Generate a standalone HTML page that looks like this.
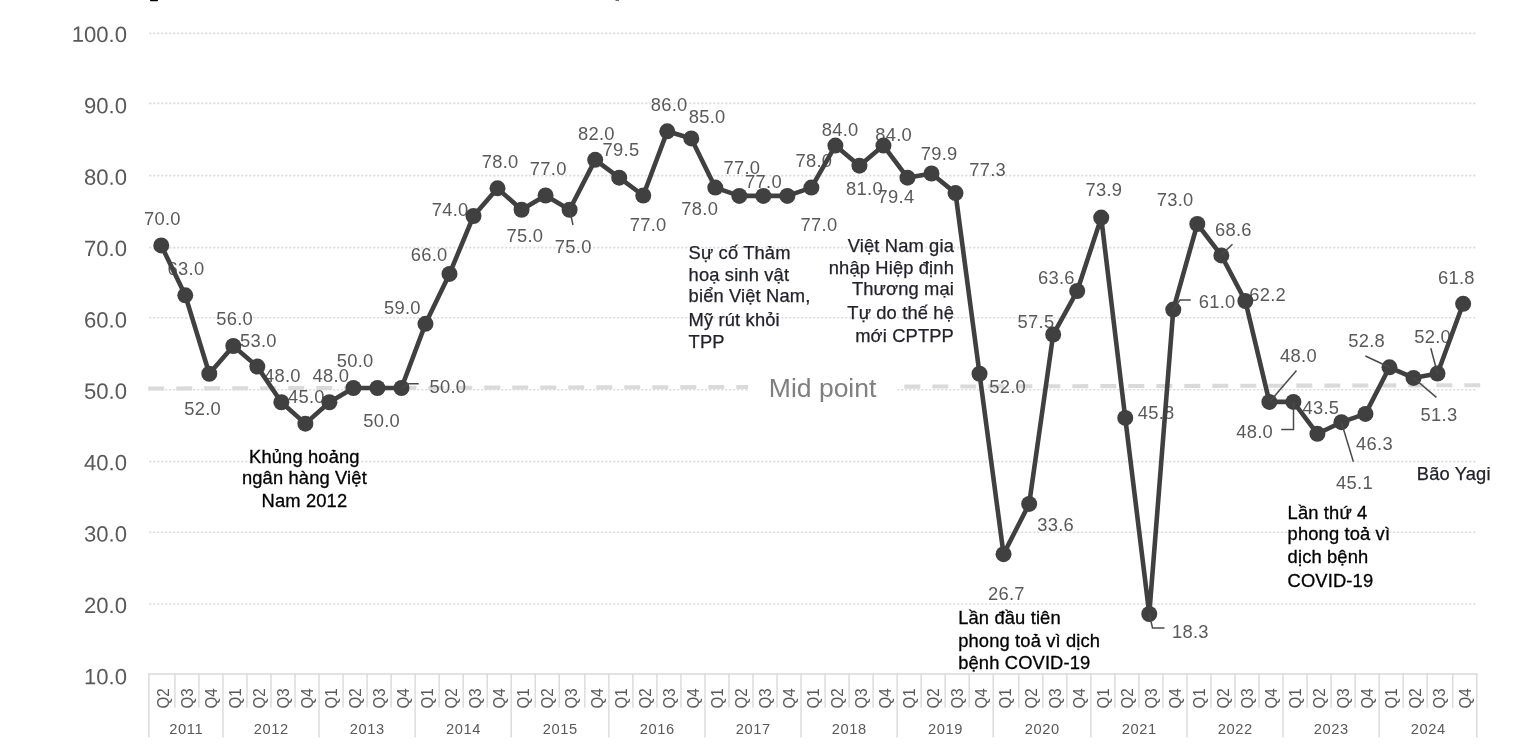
<!DOCTYPE html>
<html lang="vi"><head><meta charset="utf-8"><title>Chart</title>
<style>html,body{margin:0;padding:0;background:#fff}body{width:1520px;height:750px;overflow:hidden;position:relative;font-family:"Liberation Sans",sans-serif}svg{position:absolute;left:0;top:0;display:block}text{font-family:"Liberation Sans",sans-serif}.yl{font-size:22.1px;fill:#595959;text-anchor:end}.dl{font-size:18.33px;fill:#595959;letter-spacing:0.3px}.xl{font-size:14.67px;fill:#595959}.xq{font-size:16.8px;fill:#595959}.an{font-size:18.33px;fill:#000;stroke:#000;stroke-width:0.3px;letter-spacing:0.14px}.an2{font-size:18.33px;fill:#22222c;stroke:#22222c;stroke-width:0.25px;letter-spacing:0.14px}</style></head><body>
<svg width="1520" height="750" viewBox="0 0 1520 750">
<rect x="150" y="-1" width="8" height="2.2" rx="1" fill="#000"/>
<rect x="615.5" y="0" width="3.5" height="0.8" fill="#444"/>
<g stroke="#d9d9d9" stroke-width="1.6" stroke-dasharray="2 2" fill="none">
<line x1="149.3" y1="33.4" x2="1477" y2="33.4"/>
<line x1="149.3" y1="103.4" x2="1477" y2="103.4"/>
<line x1="149.3" y1="175.6" x2="1477" y2="175.6"/>
<line x1="149.3" y1="247.6" x2="1477" y2="247.6"/>
<line x1="149.3" y1="317.8" x2="1477" y2="317.8"/>
<line x1="149.3" y1="389.8" x2="1477" y2="389.8"/>
<line x1="149.3" y1="461.6" x2="1477" y2="461.6"/>
<line x1="149.3" y1="532.3" x2="1477" y2="532.3"/>
<line x1="149.3" y1="604.0" x2="1477" y2="604.0"/>
</g>
<line x1="148.2" y1="388.5" x2="1480.2" y2="385.2" stroke="#dadada" stroke-width="4.1" stroke-dasharray="16 12.003"/>
<rect x="748" y="370" width="149.5" height="36" fill="#fff"/>
<text x="822.6" y="396.6" font-size="26.5" fill="#7f7f7f" text-anchor="middle">Mid point</text>
<g stroke="#d9d9d9" stroke-width="1.4" fill="none">
<line x1="148.20000000000002" y1="674.0" x2="1477.7" y2="674.0"/>
<line x1="148.90" y1="674.0" x2="148.90" y2="737.4"/>
<line x1="174.92" y1="674.0" x2="174.92" y2="707.8"/>
<line x1="198.94" y1="674.0" x2="198.94" y2="707.8"/>
<line x1="222.96" y1="674.0" x2="222.96" y2="737.4"/>
<line x1="246.98" y1="674.0" x2="246.98" y2="707.8"/>
<line x1="271.00" y1="674.0" x2="271.00" y2="707.8"/>
<line x1="295.02" y1="674.0" x2="295.02" y2="707.8"/>
<line x1="319.04" y1="674.0" x2="319.04" y2="737.4"/>
<line x1="343.06" y1="674.0" x2="343.06" y2="707.8"/>
<line x1="367.08" y1="674.0" x2="367.08" y2="707.8"/>
<line x1="391.10" y1="674.0" x2="391.10" y2="707.8"/>
<line x1="415.12" y1="674.0" x2="415.12" y2="737.4"/>
<line x1="439.14" y1="674.0" x2="439.14" y2="707.8"/>
<line x1="463.16" y1="674.0" x2="463.16" y2="707.8"/>
<line x1="487.18" y1="674.0" x2="487.18" y2="707.8"/>
<line x1="511.20" y1="674.0" x2="511.20" y2="737.4"/>
<line x1="535.22" y1="674.0" x2="535.22" y2="707.8"/>
<line x1="559.24" y1="674.0" x2="559.24" y2="707.8"/>
<line x1="584.86" y1="674.0" x2="584.86" y2="707.8"/>
<line x1="608.88" y1="674.0" x2="608.88" y2="737.4"/>
<line x1="632.90" y1="674.0" x2="632.90" y2="707.8"/>
<line x1="656.92" y1="674.0" x2="656.92" y2="707.8"/>
<line x1="680.94" y1="674.0" x2="680.94" y2="707.8"/>
<line x1="704.96" y1="674.0" x2="704.96" y2="737.4"/>
<line x1="728.98" y1="674.0" x2="728.98" y2="707.8"/>
<line x1="753.00" y1="674.0" x2="753.00" y2="707.8"/>
<line x1="777.02" y1="674.0" x2="777.02" y2="707.8"/>
<line x1="801.04" y1="674.0" x2="801.04" y2="737.4"/>
<line x1="825.06" y1="674.0" x2="825.06" y2="707.8"/>
<line x1="849.08" y1="674.0" x2="849.08" y2="707.8"/>
<line x1="873.10" y1="674.0" x2="873.10" y2="707.8"/>
<line x1="897.12" y1="674.0" x2="897.12" y2="737.4"/>
<line x1="921.14" y1="674.0" x2="921.14" y2="707.8"/>
<line x1="945.16" y1="674.0" x2="945.16" y2="707.8"/>
<line x1="969.18" y1="674.0" x2="969.18" y2="707.8"/>
<line x1="993.20" y1="674.0" x2="993.20" y2="737.4"/>
<line x1="1018.82" y1="674.0" x2="1018.82" y2="707.8"/>
<line x1="1042.84" y1="674.0" x2="1042.84" y2="707.8"/>
<line x1="1066.86" y1="674.0" x2="1066.86" y2="707.8"/>
<line x1="1090.88" y1="674.0" x2="1090.88" y2="737.4"/>
<line x1="1114.90" y1="674.0" x2="1114.90" y2="707.8"/>
<line x1="1138.92" y1="674.0" x2="1138.92" y2="707.8"/>
<line x1="1162.94" y1="674.0" x2="1162.94" y2="707.8"/>
<line x1="1186.96" y1="674.0" x2="1186.96" y2="737.4"/>
<line x1="1210.98" y1="674.0" x2="1210.98" y2="707.8"/>
<line x1="1235.00" y1="674.0" x2="1235.00" y2="707.8"/>
<line x1="1259.02" y1="674.0" x2="1259.02" y2="707.8"/>
<line x1="1283.04" y1="674.0" x2="1283.04" y2="737.4"/>
<line x1="1307.06" y1="674.0" x2="1307.06" y2="707.8"/>
<line x1="1331.08" y1="674.0" x2="1331.08" y2="707.8"/>
<line x1="1355.10" y1="674.0" x2="1355.10" y2="707.8"/>
<line x1="1379.12" y1="674.0" x2="1379.12" y2="737.4"/>
<line x1="1403.14" y1="674.0" x2="1403.14" y2="707.8"/>
<line x1="1427.16" y1="674.0" x2="1427.16" y2="707.8"/>
<line x1="1452.78" y1="674.0" x2="1452.78" y2="707.8"/>
<line x1="1476.80" y1="674.0" x2="1476.80" y2="737.4"/>
</g>
<text class="yl" transform="translate(127,41.9) rotate(0.03)">100.0</text>
<text class="yl" transform="translate(127,113.3) rotate(0.03)">90.0</text>
<text class="yl" transform="translate(127,184.7) rotate(0.03)">80.0</text>
<text class="yl" transform="translate(127,256.0) rotate(0.03)">70.0</text>
<text class="yl" transform="translate(127,327.4) rotate(0.03)">60.0</text>
<text class="yl" transform="translate(127,398.8) rotate(0.03)">50.0</text>
<text class="yl" transform="translate(127,470.2) rotate(0.03)">40.0</text>
<text class="yl" transform="translate(127,541.6) rotate(0.03)">30.0</text>
<text class="yl" transform="translate(127,612.9) rotate(0.03)">20.0</text>
<text class="yl" transform="translate(127,684.3) rotate(0.03)">10.0</text>
<text class="xq" transform="translate(168.75,708.6) rotate(-90) scale(0.9,1)">Q2</text>
<text class="xq" transform="translate(192.77,708.6) rotate(-90) scale(0.9,1)">Q3</text>
<text class="xq" transform="translate(216.79,708.6) rotate(-90) scale(0.9,1)">Q4</text>
<text class="xq" transform="translate(240.81,708.6) rotate(-90) scale(0.9,1)">Q1</text>
<text class="xq" transform="translate(264.83,708.6) rotate(-90) scale(0.9,1)">Q2</text>
<text class="xq" transform="translate(288.85,708.6) rotate(-90) scale(0.9,1)">Q3</text>
<text class="xq" transform="translate(312.87,708.6) rotate(-90) scale(0.9,1)">Q4</text>
<text class="xq" transform="translate(336.89,708.6) rotate(-90) scale(0.9,1)">Q1</text>
<text class="xq" transform="translate(360.91,708.6) rotate(-90) scale(0.9,1)">Q2</text>
<text class="xq" transform="translate(384.93,708.6) rotate(-90) scale(0.9,1)">Q3</text>
<text class="xq" transform="translate(408.95,708.6) rotate(-90) scale(0.9,1)">Q4</text>
<text class="xq" transform="translate(432.97,708.6) rotate(-90) scale(0.9,1)">Q1</text>
<text class="xq" transform="translate(456.99,708.6) rotate(-90) scale(0.9,1)">Q2</text>
<text class="xq" transform="translate(481.01,708.6) rotate(-90) scale(0.9,1)">Q3</text>
<text class="xq" transform="translate(505.03,708.6) rotate(-90) scale(0.9,1)">Q4</text>
<text class="xq" transform="translate(529.05,708.6) rotate(-90) scale(0.9,1)">Q1</text>
<text class="xq" transform="translate(553.07,708.6) rotate(-90) scale(0.9,1)">Q2</text>
<text class="xq" transform="translate(577.09,708.6) rotate(-90) scale(0.9,1)">Q3</text>
<text class="xq" transform="translate(602.71,708.6) rotate(-90) scale(0.9,1)">Q4</text>
<text class="xq" transform="translate(626.73,708.6) rotate(-90) scale(0.9,1)">Q1</text>
<text class="xq" transform="translate(650.75,708.6) rotate(-90) scale(0.9,1)">Q2</text>
<text class="xq" transform="translate(674.77,708.6) rotate(-90) scale(0.9,1)">Q3</text>
<text class="xq" transform="translate(698.79,708.6) rotate(-90) scale(0.9,1)">Q4</text>
<text class="xq" transform="translate(722.81,708.6) rotate(-90) scale(0.9,1)">Q1</text>
<text class="xq" transform="translate(746.83,708.6) rotate(-90) scale(0.9,1)">Q2</text>
<text class="xq" transform="translate(770.85,708.6) rotate(-90) scale(0.9,1)">Q3</text>
<text class="xq" transform="translate(794.87,708.6) rotate(-90) scale(0.9,1)">Q4</text>
<text class="xq" transform="translate(818.89,708.6) rotate(-90) scale(0.9,1)">Q1</text>
<text class="xq" transform="translate(842.91,708.6) rotate(-90) scale(0.9,1)">Q2</text>
<text class="xq" transform="translate(866.93,708.6) rotate(-90) scale(0.9,1)">Q3</text>
<text class="xq" transform="translate(890.95,708.6) rotate(-90) scale(0.9,1)">Q4</text>
<text class="xq" transform="translate(914.97,708.6) rotate(-90) scale(0.9,1)">Q1</text>
<text class="xq" transform="translate(938.99,708.6) rotate(-90) scale(0.9,1)">Q2</text>
<text class="xq" transform="translate(963.01,708.6) rotate(-90) scale(0.9,1)">Q3</text>
<text class="xq" transform="translate(987.03,708.6) rotate(-90) scale(0.9,1)">Q4</text>
<text class="xq" transform="translate(1011.05,708.6) rotate(-90) scale(0.9,1)">Q1</text>
<text class="xq" transform="translate(1036.67,708.6) rotate(-90) scale(0.9,1)">Q2</text>
<text class="xq" transform="translate(1060.69,708.6) rotate(-90) scale(0.9,1)">Q3</text>
<text class="xq" transform="translate(1084.71,708.6) rotate(-90) scale(0.9,1)">Q4</text>
<text class="xq" transform="translate(1108.73,708.6) rotate(-90) scale(0.9,1)">Q1</text>
<text class="xq" transform="translate(1132.75,708.6) rotate(-90) scale(0.9,1)">Q2</text>
<text class="xq" transform="translate(1156.77,708.6) rotate(-90) scale(0.9,1)">Q3</text>
<text class="xq" transform="translate(1180.79,708.6) rotate(-90) scale(0.9,1)">Q4</text>
<text class="xq" transform="translate(1204.81,708.6) rotate(-90) scale(0.9,1)">Q1</text>
<text class="xq" transform="translate(1228.83,708.6) rotate(-90) scale(0.9,1)">Q2</text>
<text class="xq" transform="translate(1252.85,708.6) rotate(-90) scale(0.9,1)">Q3</text>
<text class="xq" transform="translate(1276.87,708.6) rotate(-90) scale(0.9,1)">Q4</text>
<text class="xq" transform="translate(1300.89,708.6) rotate(-90) scale(0.9,1)">Q1</text>
<text class="xq" transform="translate(1324.91,708.6) rotate(-90) scale(0.9,1)">Q2</text>
<text class="xq" transform="translate(1348.93,708.6) rotate(-90) scale(0.9,1)">Q3</text>
<text class="xq" transform="translate(1372.95,708.6) rotate(-90) scale(0.9,1)">Q4</text>
<text class="xq" transform="translate(1396.97,708.6) rotate(-90) scale(0.9,1)">Q1</text>
<text class="xq" transform="translate(1420.99,708.6) rotate(-90) scale(0.9,1)">Q2</text>
<text class="xq" transform="translate(1445.01,708.6) rotate(-90) scale(0.9,1)">Q3</text>
<text class="xq" transform="translate(1470.63,708.6) rotate(-90) scale(0.9,1)">Q4</text>
<text class="xl" x="186.23" y="733.7" text-anchor="middle" letter-spacing="0.6">2011</text>
<text class="xl" x="271.30" y="733.7" text-anchor="middle" letter-spacing="0.6">2012</text>
<text class="xl" x="367.38" y="733.7" text-anchor="middle" letter-spacing="0.6">2013</text>
<text class="xl" x="463.46" y="733.7" text-anchor="middle" letter-spacing="0.6">2014</text>
<text class="xl" x="560.34" y="733.7" text-anchor="middle" letter-spacing="0.6">2015</text>
<text class="xl" x="657.22" y="733.7" text-anchor="middle" letter-spacing="0.6">2016</text>
<text class="xl" x="753.30" y="733.7" text-anchor="middle" letter-spacing="0.6">2017</text>
<text class="xl" x="849.38" y="733.7" text-anchor="middle" letter-spacing="0.6">2018</text>
<text class="xl" x="945.46" y="733.7" text-anchor="middle" letter-spacing="0.6">2019</text>
<text class="xl" x="1042.34" y="733.7" text-anchor="middle" letter-spacing="0.6">2020</text>
<text class="xl" x="1139.22" y="733.7" text-anchor="middle" letter-spacing="0.6">2021</text>
<text class="xl" x="1235.30" y="733.7" text-anchor="middle" letter-spacing="0.6">2022</text>
<text class="xl" x="1331.38" y="733.7" text-anchor="middle" letter-spacing="0.6">2023</text>
<text class="xl" x="1428.26" y="733.7" text-anchor="middle" letter-spacing="0.6">2024</text>
<text class="dl" x="143.97" y="225">70.0</text>
<text class="dl" x="167.62" y="275">63.0</text>
<text class="dl" x="184.22" y="415">52.0</text>
<text class="dl" x="216.22" y="325.2">56.0</text>
<text class="dl" x="239.97" y="346.75">53.0</text>
<text class="dl" x="263.97" y="382">48.0</text>
<text class="dl" x="287.97" y="402.5">45.0</text>
<text class="dl" x="312.47" y="382">48.0</text>
<text class="dl" x="336.72" y="367">50.0</text>
<text class="dl" x="363.22" y="427">50.0</text>
<text class="dl" x="429.47" y="392.5">50.0</text>
<text class="dl" x="383.97" y="314.25">59.0</text>
<text class="dl" x="410.72" y="261.25">66.0</text>
<text class="dl" x="431.72" y="216.25">74.0</text>
<text class="dl" x="481.72" y="167.5">78.0</text>
<text class="dl" x="506.47" y="242">75.0</text>
<text class="dl" x="529.82" y="174.5">77.0</text>
<text class="dl" x="554.82" y="253">75.0</text>
<text class="dl" x="577.97" y="139.5">82.0</text>
<text class="dl" x="602.62" y="156.25">79.5</text>
<text class="dl" x="629.72" y="231.25">77.0</text>
<text class="dl" x="650.72" y="110.5">86.0</text>
<text class="dl" x="688.72" y="123">85.0</text>
<text class="dl" x="681.32" y="215.2">78.0</text>
<text class="dl" x="723.42" y="174.4">77.0</text>
<text class="dl" x="745.02" y="188">77.0</text>
<text class="dl" x="800.52" y="231.3">77.0</text>
<text class="dl" x="795.42" y="167.4">78.0</text>
<text class="dl" x="821.72" y="135.8">84.0</text>
<text class="dl" x="846.02" y="195.2">81.0</text>
<text class="dl" x="875.22" y="140.6">84.0</text>
<text class="dl" x="877.52" y="203.2">79.4</text>
<text class="dl" x="920.72" y="160">79.9</text>
<text class="dl" x="969.22" y="176.25">77.3</text>
<text class="dl" x="989.22" y="393">52.0</text>
<text class="dl" x="987.97" y="600.2">26.7</text>
<text class="dl" x="1037.22" y="530.5">33.6</text>
<text class="dl" x="1017.62" y="328">57.5</text>
<text class="dl" x="1037.97" y="283.75">63.6</text>
<text class="dl" x="1085.47" y="196.25">73.9</text>
<text class="dl" x="1137.72" y="418.75">45.8</text>
<text class="dl" x="1171.97" y="637.5">18.3</text>
<text class="dl" x="1198.72" y="308">61.0</text>
<text class="dl" x="1156.72" y="206.25">73.0</text>
<text class="dl" x="1214.97" y="236.25">68.6</text>
<text class="dl" x="1249.22" y="300.75">62.2</text>
<text class="dl" x="1280.12" y="361.5">48.0</text>
<text class="dl" x="1236.22" y="437.7">48.0</text>
<text class="dl" x="1302.47" y="414.2">43.5</text>
<text class="dl" x="1336.02" y="489.4">45.1</text>
<text class="dl" x="1356.02" y="450">46.3</text>
<text class="dl" x="1348.22" y="347.2">52.8</text>
<text class="dl" x="1420.62" y="420.9">51.3</text>
<text class="dl" x="1414.22" y="342.5">52.0</text>
<text class="dl" x="1437.92" y="283.8">61.8</text>
<text class="an" x="304.4" y="462.6" text-anchor="middle">Khủng hoảng</text>
<text class="an" x="304.4" y="484.3" text-anchor="middle">ngân hàng Việt</text>
<text class="an" x="304.4" y="506.7" text-anchor="middle">Nam 2012</text>
<text class="an2" x="688.6" y="258.5" text-anchor="start">Sự cố Thảm</text>
<text class="an2" x="688.6" y="280.6" text-anchor="start">hoạ sinh vật</text>
<text class="an2" x="688.6" y="302.1" text-anchor="start">biển Việt Nam,</text>
<text class="an2" x="688.6" y="326.0" text-anchor="start">Mỹ rút khỏi</text>
<text class="an2" x="688.6" y="348.2" text-anchor="start">TPP</text>
<text class="an2" x="954" y="251.6" text-anchor="end">Việt Nam gia</text>
<text class="an2" x="954" y="274.0" text-anchor="end">nhập Hiệp định</text>
<text class="an2" x="954" y="295.0" text-anchor="end">Thương mại</text>
<text class="an2" x="954" y="319.3" text-anchor="end">Tự do thế hệ</text>
<text class="an2" x="954" y="342.4" text-anchor="end">mới CPTPP</text>
<text class="an" x="958.2" y="623.9" text-anchor="start">Lần đầu tiên</text>
<text class="an" x="958.2" y="646.6" text-anchor="start">phong toả vì dịch</text>
<text class="an" x="958.2" y="669.1" text-anchor="start">bệnh COVID-19</text>
<text class="an" x="1287.6" y="518.9" text-anchor="start">Lần thứ 4</text>
<text class="an" x="1287.6" y="540.4" text-anchor="start">phong toả vì</text>
<text class="an" x="1287.6" y="562.5" text-anchor="start">dịch bệnh</text>
<text class="an" x="1287.6" y="587.0" text-anchor="start">COVID-19</text>
<text class="an2" x="1416.8" y="479.9" text-anchor="start">Bão Yagi</text>
<polyline points="161.25,245.40 185.27,295.31 209.29,373.74 233.31,346.00 257.33,366.61 281.35,402.26 305.37,423.65 329.39,402.26 353.41,388.00 377.43,388.00 401.45,388.00 425.47,323.83 449.49,273.92 473.51,216.00 497.53,188.36 521.55,209.75 545.57,195.49 569.59,209.75 595.21,159.84 619.23,177.66 643.25,195.49 667.27,131.32 691.29,138.45 715.31,187.60 739.33,195.90 763.35,195.90 787.37,195.90 811.39,187.60 835.41,145.58 859.43,165.70 883.45,145.58 907.47,177.70 931.49,173.50 955.51,193.10 979.53,373.74 1003.55,554.13 1029.17,503.90 1053.19,334.52 1077.21,291.03 1101.23,217.59 1125.25,417.95 1149.27,614.02 1173.29,309.57 1197.31,224.01 1221.33,255.38 1245.35,301.01 1269.37,401.90 1293.39,401.90 1317.41,433.80 1341.43,422.20 1365.45,413.90 1389.47,367.30 1413.49,377.90 1437.51,373.50 1463.13,303.80" fill="none" stroke="#404040" stroke-width="4.6" stroke-linejoin="round" stroke-linecap="round"/>
<g fill="#404040">
<circle cx="161.25" cy="245.40" r="8"/>
<circle cx="185.27" cy="295.31" r="8"/>
<circle cx="209.29" cy="373.74" r="8"/>
<circle cx="233.31" cy="346.00" r="8"/>
<circle cx="257.33" cy="366.61" r="8"/>
<circle cx="281.35" cy="402.26" r="8"/>
<circle cx="305.37" cy="423.65" r="8"/>
<circle cx="329.39" cy="402.26" r="8"/>
<circle cx="353.41" cy="388.00" r="8"/>
<circle cx="377.43" cy="388.00" r="8"/>
<circle cx="401.45" cy="388.00" r="8"/>
<circle cx="425.47" cy="323.83" r="8"/>
<circle cx="449.49" cy="273.92" r="8"/>
<circle cx="473.51" cy="216.00" r="8"/>
<circle cx="497.53" cy="188.36" r="8"/>
<circle cx="521.55" cy="209.75" r="8"/>
<circle cx="545.57" cy="195.49" r="8"/>
<circle cx="569.59" cy="209.75" r="8"/>
<circle cx="595.21" cy="159.84" r="8"/>
<circle cx="619.23" cy="177.66" r="8"/>
<circle cx="643.25" cy="195.49" r="8"/>
<circle cx="667.27" cy="131.32" r="8"/>
<circle cx="691.29" cy="138.45" r="8"/>
<circle cx="715.31" cy="187.60" r="8"/>
<circle cx="739.33" cy="195.90" r="8"/>
<circle cx="763.35" cy="195.90" r="8"/>
<circle cx="787.37" cy="195.90" r="8"/>
<circle cx="811.39" cy="187.60" r="8"/>
<circle cx="835.41" cy="145.58" r="8"/>
<circle cx="859.43" cy="165.70" r="8"/>
<circle cx="883.45" cy="145.58" r="8"/>
<circle cx="907.47" cy="177.70" r="8"/>
<circle cx="931.49" cy="173.50" r="8"/>
<circle cx="955.51" cy="193.10" r="8"/>
<circle cx="979.53" cy="373.74" r="8"/>
<circle cx="1003.55" cy="554.13" r="8"/>
<circle cx="1029.17" cy="503.90" r="8"/>
<circle cx="1053.19" cy="334.52" r="8"/>
<circle cx="1077.21" cy="291.03" r="8"/>
<circle cx="1101.23" cy="217.59" r="8"/>
<circle cx="1125.25" cy="417.95" r="8"/>
<circle cx="1149.27" cy="614.02" r="8"/>
<circle cx="1173.29" cy="309.57" r="8"/>
<circle cx="1197.31" cy="224.01" r="8"/>
<circle cx="1221.33" cy="255.38" r="8"/>
<circle cx="1245.35" cy="301.01" r="8"/>
<circle cx="1269.37" cy="401.90" r="8"/>
<circle cx="1293.39" cy="401.90" r="8"/>
<circle cx="1317.41" cy="433.80" r="8"/>
<circle cx="1341.43" cy="422.20" r="8"/>
<circle cx="1365.45" cy="413.90" r="8"/>
<circle cx="1389.47" cy="367.30" r="8"/>
<circle cx="1413.49" cy="377.90" r="8"/>
<circle cx="1437.51" cy="373.50" r="8"/>
<circle cx="1463.13" cy="303.80" r="8"/>
</g>
<g stroke="#4a4a4a" stroke-width="1.5" fill="none">
<polyline points="402,388 408.75,383.75 418.75,383.75"/>
<polyline points="569.5,209.5 573,225"/>
<polyline points="1149.25,613.75 1152.5,628 1164.5,628"/>
<polyline points="1173.25,309.5 1180,300 1190.75,300"/>
<polyline points="1221.25,255 1232.5,244.25"/>
<polyline points="1269.5,402 1296.5,370.5"/>
<polyline points="1293.5,402 1293.5,429.5 1281.2,429.5"/>
<polyline points="1341.3,422 1353.4,461.7"/>
<polyline points="1389.4,367.2 1365.4,356"/>
<polyline points="1413.4,377.7 1436.4,397.4"/>
<polyline points="1437.6,373.5 1430.8,348.2"/>
</g>
</svg></body></html>
